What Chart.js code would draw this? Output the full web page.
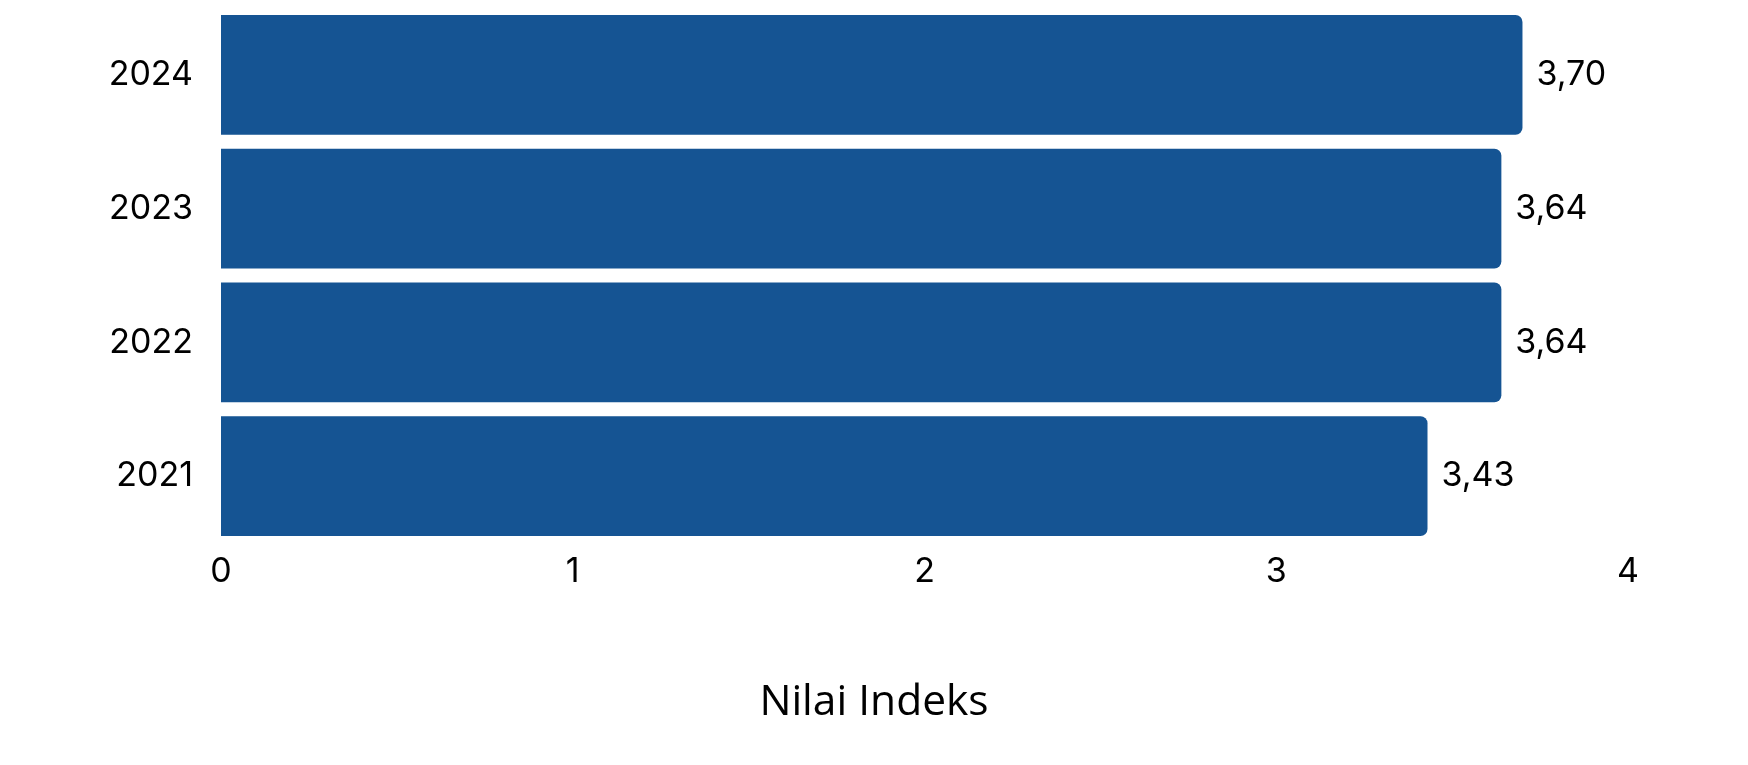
<!DOCTYPE html>
<html>
<head>
<meta charset="utf-8">
<script src="https://cdn.jsdelivr.net/npm/chart.js@4.4.1/dist/chart.umd.min.js"></script>
<style>
html,body{margin:0;padding:0;background:#fff;}
#wrap{width:1748px;height:765px;position:relative;}
</style>
</head>
<body>
<div id="wrap"><canvas id="c" width="1748" height="765"></canvas></div>
<script>
const categories = ["2024", "2023", "2022", "2021"];
const values = [3.70, 3.64, 3.64, 3.43];
const xTicks = [0, 1, 2, 3, 4];
const axisTitle = "Nilai Indeks";

const barColor = "#155493";
const tickFont = {family: "Inter, 'Noto Sans', sans-serif", size: 34};

const valueLabels = {
  id: 'valueLabels',
  afterLayout(chart) {
    // centre the bottom title on the whole canvas
    const t = chart.titleBlock;
    if (t) { t.left = 0; t.right = chart.width; t.width = chart.width; }
  },
  afterDatasetsDraw(chart) {
    const ctx = chart.ctx;
    const meta = chart.getDatasetMeta(0);
    ctx.save();
    ctx.font = "34px Inter, 'Noto Sans', sans-serif";
    ctx.fillStyle = "#000";
    ctx.textAlign = "left";
    ctx.textBaseline = "middle";
    meta.data.forEach((bar, i) => {
      const v = chart.data.datasets[0].data[i];
      ctx.fillText(v.toFixed(2).replace('.', ','), bar.x + 14, bar.y);
    });
    ctx.restore();
  }
};

new Chart(document.getElementById('c'), {
  type: 'bar',
  data: {
    labels: categories,
    datasets: [{
      data: values,
      backgroundColor: barColor,
      borderWidth: 0,
      borderSkipped: 'start',
      borderRadius: 7,
      categoryPercentage: 1,
      barPercentage: 0.897
    }]
  },
  options: {
    indexAxis: 'y',
    responsive: false,
    animation: false,
    devicePixelRatio: 1,
    layout: {padding: {top: 8, right: 120, bottom: 37, left: 0}},
    plugins: {
      legend: {display: false},
      tooltip: {enabled: false},
      title: {
        display: true,
        position: 'bottom',
        text: axisTitle,
        color: '#000',
        font: {family: "'Open Sans', sans-serif", size: 42.5, weight: 'normal'},
        padding: {top: 0, bottom: 0}
      }
    },
    scales: {
      x: {
        min: 0, max: 4,
        afterBuildTicks(scale) { scale.ticks = xTicks.map(v => ({value: v})); },
        afterFit(scale) { scale.height = 134; },
        grid: {display: false, drawTicks: false},
        border: {display: false},
        ticks: {color: '#000', font: tickFont, padding: 8, maxRotation: 0}
      },
      y: {
        afterFit(scale) { scale.width = 221; scale.paddingTop = 0; scale.paddingBottom = 0; },
        grid: {display: false, drawTicks: false},
        border: {display: false},
        ticks: {color: '#000', font: tickFont, padding: 28}
      }
    }
  },
  plugins: [valueLabels]
});
</script>
</body>
</html>
